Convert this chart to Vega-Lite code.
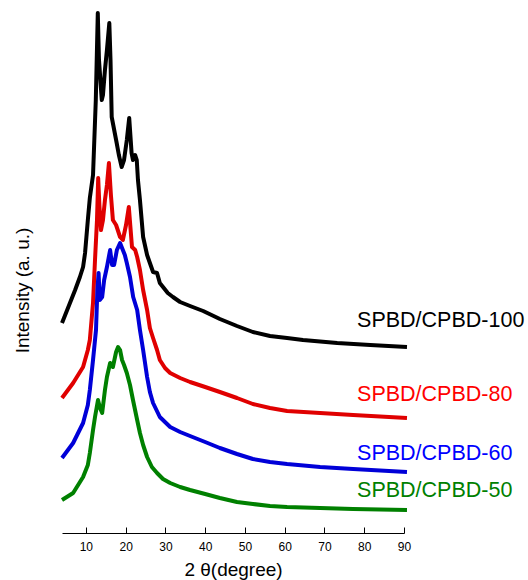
{
  "$schema": "https://vega.github.io/schema/vega-lite/v6.json",
  "autosize": {"type": "none"},
  "padding": {"left": 62, "top": 10, "right": 124, "bottom": 47},
  "width": 342,
  "height": 523,
  "config": {"view": {"stroke": null}, "font": "Liberation Sans"},
  "datasets": {
    "curves": [
      {"s": "100", "x": 4.0, "y": 210}, {"s": "100", "x": 6.0, "y": 230}, {"s": "100", "x": 7.3, "y": 243}, {"s": "100", "x": 8.5, "y": 256},
      {"s": "100", "x": 9.3, "y": 266}, {"s": "100", "x": 9.8, "y": 280}, {"s": "100", "x": 10.5, "y": 313}, {"s": "100", "x": 11.0, "y": 335},
      {"s": "100", "x": 11.8, "y": 358}, {"s": "100", "x": 12.5, "y": 433}, {"s": "100", "x": 13.0, "y": 520}, {"s": "100", "x": 13.3, "y": 473},
      {"s": "100", "x": 14.0, "y": 433}, {"s": "100", "x": 14.3, "y": 438}, {"s": "100", "x": 14.8, "y": 463}, {"s": "100", "x": 15.3, "y": 483},
      {"s": "100", "x": 15.9, "y": 510}, {"s": "100", "x": 16.2, "y": 473}, {"s": "100", "x": 16.5, "y": 416}, {"s": "100", "x": 17.75, "y": 390},
      {"s": "100", "x": 18.3, "y": 378}, {"s": "100", "x": 19.0, "y": 366}, {"s": "100", "x": 19.6, "y": 373}, {"s": "100", "x": 20.3, "y": 393},
      {"s": "100", "x": 20.9, "y": 415}, {"s": "100", "x": 21.5, "y": 380}, {"s": "100", "x": 21.85, "y": 373}, {"s": "100", "x": 22.4, "y": 378},
      {"s": "100", "x": 22.8, "y": 373}, {"s": "100", "x": 23.1, "y": 353}, {"s": "100", "x": 23.6, "y": 333}, {"s": "100", "x": 24.4, "y": 296},
      {"s": "100", "x": 25.4, "y": 278}, {"s": "100", "x": 26.1, "y": 270}, {"s": "100", "x": 26.9, "y": 261}, {"s": "100", "x": 27.9, "y": 260},
      {"s": "100", "x": 28.6, "y": 250}, {"s": "100", "x": 29.4, "y": 246}, {"s": "100", "x": 30.6, "y": 240}, {"s": "100", "x": 31.9, "y": 236},
      {"s": "100", "x": 33.7, "y": 231}, {"s": "100", "x": 36.2, "y": 227}, {"s": "100", "x": 39.5, "y": 222}, {"s": "100", "x": 43.7, "y": 214},
      {"s": "100", "x": 48.0, "y": 207}, {"s": "100", "x": 52.0, "y": 201}, {"s": "100", "x": 56.3, "y": 197}, {"s": "100", "x": 60.6, "y": 195},
      {"s": "100", "x": 64.6, "y": 193}, {"s": "100", "x": 73.2, "y": 190}, {"s": "100", "x": 81.5, "y": 188}, {"s": "100", "x": 90.75, "y": 186},

      {"s": "80", "x": 4.0, "y": 135}, {"s": "80", "x": 6.8, "y": 150}, {"s": "80", "x": 9.3, "y": 166}, {"s": "80", "x": 10.5, "y": 183},
      {"s": "80", "x": 11.0, "y": 193}, {"s": "80", "x": 11.8, "y": 230}, {"s": "80", "x": 12.3, "y": 273}, {"s": "80", "x": 12.8, "y": 313},
      {"s": "80", "x": 13.1, "y": 355}, {"s": "80", "x": 13.4, "y": 328}, {"s": "80", "x": 13.8, "y": 303}, {"s": "80", "x": 14.3, "y": 313},
      {"s": "80", "x": 14.8, "y": 333}, {"s": "80", "x": 15.3, "y": 348}, {"s": "80", "x": 15.8, "y": 370}, {"s": "80", "x": 16.3, "y": 338},
      {"s": "80", "x": 16.8, "y": 313}, {"s": "80", "x": 17.6, "y": 308}, {"s": "80", "x": 18.6, "y": 296}, {"s": "80", "x": 19.3, "y": 293},
      {"s": "80", "x": 20.1, "y": 308}, {"s": "80", "x": 20.8, "y": 326}, {"s": "80", "x": 21.6, "y": 286}, {"s": "80", "x": 22.4, "y": 283},
      {"s": "80", "x": 22.9, "y": 276}, {"s": "80", "x": 23.6, "y": 263}, {"s": "80", "x": 24.4, "y": 243}, {"s": "80", "x": 25.4, "y": 223},
      {"s": "80", "x": 26.1, "y": 205}, {"s": "80", "x": 26.9, "y": 195}, {"s": "80", "x": 27.9, "y": 183}, {"s": "80", "x": 28.6, "y": 173},
      {"s": "80", "x": 29.9, "y": 165}, {"s": "80", "x": 31.2, "y": 160}, {"s": "80", "x": 33.7, "y": 155}, {"s": "80", "x": 36.2, "y": 151},
      {"s": "80", "x": 40.0, "y": 146}, {"s": "80", "x": 43.7, "y": 141}, {"s": "80", "x": 48.0, "y": 135}, {"s": "80", "x": 52.0, "y": 129},
      {"s": "80", "x": 56.3, "y": 125}, {"s": "80", "x": 60.6, "y": 122}, {"s": "80", "x": 68.9, "y": 120}, {"s": "80", "x": 77.2, "y": 118},
      {"s": "80", "x": 90.75, "y": 115},

      {"s": "60", "x": 4.0, "y": 75}, {"s": "60", "x": 6.8, "y": 90}, {"s": "60", "x": 9.3, "y": 110}, {"s": "60", "x": 10.5, "y": 128},
      {"s": "60", "x": 11.0, "y": 143}, {"s": "60", "x": 11.8, "y": 173}, {"s": "60", "x": 12.55, "y": 203}, {"s": "60", "x": 12.9, "y": 243},
      {"s": "60", "x": 13.2, "y": 260}, {"s": "60", "x": 13.5, "y": 233}, {"s": "60", "x": 14.1, "y": 236}, {"s": "60", "x": 14.6, "y": 253},
      {"s": "60", "x": 15.3, "y": 266}, {"s": "60", "x": 16.1, "y": 283}, {"s": "60", "x": 16.6, "y": 268}, {"s": "60", "x": 17.1, "y": 268},
      {"s": "60", "x": 17.8, "y": 283}, {"s": "60", "x": 18.6, "y": 290}, {"s": "60", "x": 19.1, "y": 285}, {"s": "60", "x": 19.8, "y": 278},
      {"s": "60", "x": 20.3, "y": 270}, {"s": "60", "x": 21.1, "y": 256}, {"s": "60", "x": 21.9, "y": 236}, {"s": "60", "x": 22.9, "y": 223},
      {"s": "60", "x": 23.6, "y": 203}, {"s": "60", "x": 24.4, "y": 183}, {"s": "60", "x": 25.4, "y": 156}, {"s": "60", "x": 26.1, "y": 141},
      {"s": "60", "x": 26.9, "y": 130}, {"s": "60", "x": 28.6, "y": 116}, {"s": "60", "x": 31.2, "y": 106}, {"s": "60", "x": 33.7, "y": 101},
      {"s": "60", "x": 36.2, "y": 97}, {"s": "60", "x": 40.0, "y": 91}, {"s": "60", "x": 43.7, "y": 85}, {"s": "60", "x": 48.0, "y": 79},
      {"s": "60", "x": 52.0, "y": 74}, {"s": "60", "x": 56.3, "y": 71}, {"s": "60", "x": 60.6, "y": 69}, {"s": "60", "x": 68.9, "y": 66},
      {"s": "60", "x": 77.2, "y": 64}, {"s": "60", "x": 90.75, "y": 61},

      {"s": "50", "x": 4.0, "y": 33}, {"s": "50", "x": 6.8, "y": 40}, {"s": "50", "x": 9.3, "y": 56}, {"s": "50", "x": 10.5, "y": 68},
      {"s": "50", "x": 11.0, "y": 80}, {"s": "50", "x": 11.8, "y": 103}, {"s": "50", "x": 12.3, "y": 116}, {"s": "50", "x": 13.05, "y": 133},
      {"s": "50", "x": 13.55, "y": 125}, {"s": "50", "x": 14.1, "y": 120}, {"s": "50", "x": 14.8, "y": 143}, {"s": "50", "x": 15.3, "y": 156},
      {"s": "50", "x": 16.1, "y": 170}, {"s": "50", "x": 16.8, "y": 166}, {"s": "50", "x": 17.6, "y": 181}, {"s": "50", "x": 18.1, "y": 186},
      {"s": "50", "x": 18.6, "y": 183}, {"s": "50", "x": 19.1, "y": 173}, {"s": "50", "x": 19.6, "y": 168}, {"s": "50", "x": 20.3, "y": 160},
      {"s": "50", "x": 21.1, "y": 148}, {"s": "50", "x": 21.85, "y": 133}, {"s": "50", "x": 22.9, "y": 113}, {"s": "50", "x": 23.6, "y": 100},
      {"s": "50", "x": 24.4, "y": 88}, {"s": "50", "x": 25.4, "y": 76}, {"s": "50", "x": 26.6, "y": 66}, {"s": "50", "x": 27.9, "y": 60},
      {"s": "50", "x": 29.4, "y": 54}, {"s": "50", "x": 31.2, "y": 50}, {"s": "50", "x": 33.7, "y": 46}, {"s": "50", "x": 36.2, "y": 43},
      {"s": "50", "x": 40.0, "y": 39}, {"s": "50", "x": 43.7, "y": 35}, {"s": "50", "x": 48.0, "y": 31}, {"s": "50", "x": 52.0, "y": 29},
      {"s": "50", "x": 56.3, "y": 27}, {"s": "50", "x": 60.6, "y": 26}, {"s": "50", "x": 68.9, "y": 25}, {"s": "50", "x": 77.2, "y": 24},
      {"s": "50", "x": 90.75, "y": 23}
    ],
    "labels": [
      {"s": "100", "label": "SPBD/CPBD-100", "x": 78.2, "y": 206},
      {"s": "80", "label": "SPBD/CPBD-80", "x": 78.2, "y": 132},
      {"s": "60", "label": "SPBD/CPBD-60", "x": 78.2, "y": 73},
      {"s": "50", "label": "SPBD/CPBD-50", "x": 78.2, "y": 36}
    ]
  },
  "layer": [
    {
      "data": {"name": "curves"},
      "mark": {"type": "line", "strokeWidth": 4, "strokeJoin": "round"},
      "encoding": {
        "x": {
          "field": "x", "type": "quantitative",
          "scale": {"domain": [4, 90], "nice": false, "zero": false},
          "axis": {
            "values": [10, 20, 30, 40, 50, 60, 70, 80, 90],
            "title": "2 θ(degree)",
            "titleFontSize": 19, "titleFontWeight": "normal", "titleColor": "#000",
            "titlePadding": 8,
            "labelFontSize": 12, "labelColor": "#000", "labelPadding": 14,
            "tickSize": -6, "tickColor": "#000", "domainColor": "#000",
            "grid": false, "labelFlush": false
          }
        },
        "y": {
          "field": "y", "type": "quantitative",
          "scale": {"domain": [0, 523], "nice": false},
          "axis": {
            "title": "Intensity (a. u.)",
            "titleFontSize": 19, "titleFontWeight": "normal", "titleColor": "#000",
            "titlePadding": 30, "titleY": 280,
            "labels": false, "ticks": false, "domain": false, "grid": false
          }
        },
        "color": {
          "field": "s", "type": "nominal",
          "scale": {"domain": ["100", "80", "60", "50"], "range": ["#000000", "#e00000", "#0000d8", "#008000"]},
          "legend": null
        }
      }
    },
    {
      "data": {"name": "labels"},
      "mark": {"type": "text", "align": "left", "baseline": "alphabetic", "fontSize": 21.5},
      "encoding": {
        "x": {"field": "x", "type": "quantitative"},
        "y": {"field": "y", "type": "quantitative"},
        "text": {"field": "label"},
        "color": {
          "field": "s", "type": "nominal",
          "scale": {"domain": ["100", "80", "60", "50"], "range": ["#000000", "#ff0000", "#0000ff", "#008000"]},
          "legend": null
        }
      }
    }
  ],
  "resolve": {"scale": {"color": "independent"}}
}
